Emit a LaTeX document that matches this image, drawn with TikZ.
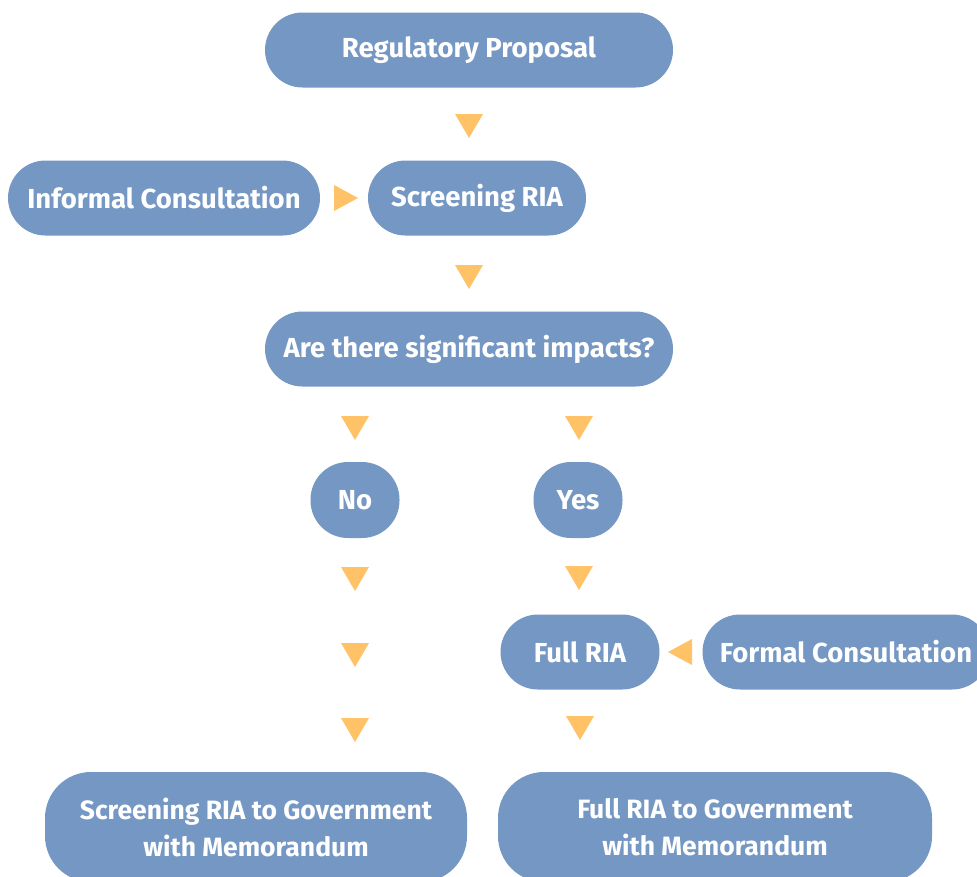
\documentclass[tikz,border=0pt]{standalone}
\usepackage{fontspec}
\setmainfont{Fira Sans}
\begin{document}
\definecolor{boxblue}{HTML}{7597C3}
\definecolor{arrowgold}{HTML}{FFC266}
\begin{tikzpicture}[x=1pt,y=-1pt,
  pill/.style={fill=boxblue, text=white, font=\bfseries\fontsize{27.5}{37}\selectfont,
    rounded corners=37.5pt, minimum height=75pt, inner sep=0pt, align=center},
  bigpill/.style={pill, font=\bfseries\fontsize{26.5}{37}\selectfont,
    rounded corners=46pt, minimum height=110pt},
  tridown/.pic={\fill[arrowgold] (-14,-12) -- (14,-12) -- (0,12) -- cycle;},
  triright/.pic={\fill[arrowgold] (-12,-13) -- (12,0) -- (-12,13) -- cycle;},
  trileft/.pic={\fill[arrowgold] (12,-13) -- (-12,0) -- (12,13) -- cycle;}]
\useasboundingbox (0,0) rectangle (977,876);
\clip (0,0) rectangle (977,876);

% flow boxes
\node[pill, minimum width=408pt] (proposal) at (469,50) {Regulatory Proposal};
\node[pill, minimum width=312pt] (informal) at (164,198) {Informal Consultation};
\node[pill, minimum width=218pt] (screening) at (477,198) {Screening RIA};
\node[pill, minimum width=408pt] (impacts) at (469,349) {Are there significant impacts?};
\node[pill, minimum width=89pt, minimum height=76pt] (no) at (355,500) {No};
\node[pill, minimum width=89pt, minimum height=76pt] (yes) at (578,500) {Yes};
\node[pill, minimum width=159pt] (full) at (580,652) {Full RIA};
\node[pill, minimum width=287pt] (formal) at (846,652) {Formal Consultation};
\node[bigpill, minimum width=422pt] (screengov) at (256,827)
  {Screening RIA to Government\\with Memorandum};
\node[bigpill, minimum width=434pt] (fullgov) at (715,827)
  {Full RIA to Government\\with Memorandum};

% arrow markers between the boxes
\pic at (469,126) {tridown};
\pic at (346,198) {triright};
\pic at (469,277) {tridown};
\pic at (355,428) {tridown};
\pic at (579,428) {tridown};
\pic at (355,579) {tridown};
\pic at (579,578) {tridown};
\pic at (355,655) {tridown};
\pic at (680,652) {trileft};
\pic at (355,730) {tridown};
\pic at (580,728) {tridown};
\end{tikzpicture}
\end{document}
